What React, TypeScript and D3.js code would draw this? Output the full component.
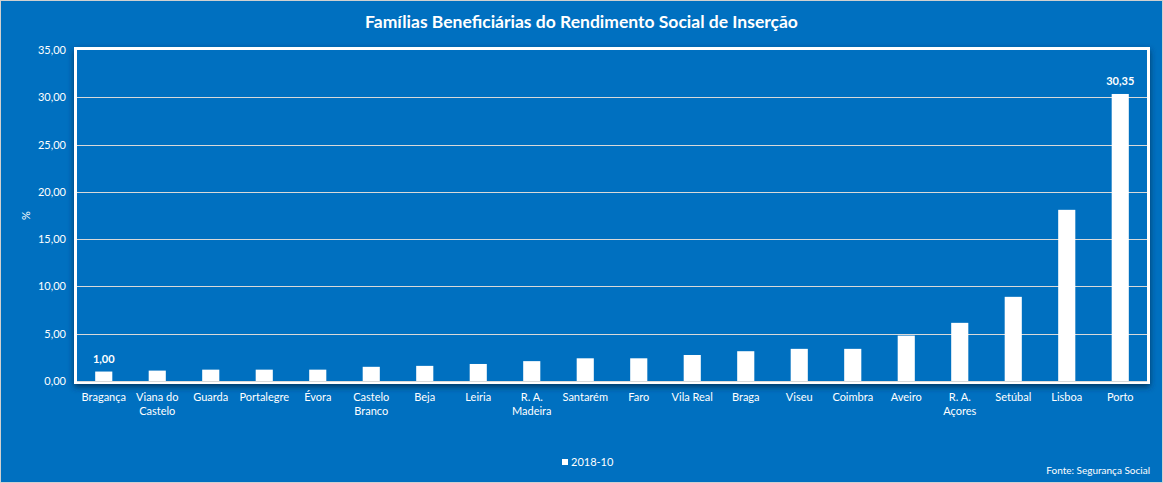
import React from 'react';
import * as d3 from 'd3';

const categories = [
  'Bragança', 'Viana do|Castelo', 'Guarda', 'Portalegre', 'Évora', 'Castelo|Branco', 'Beja', 'Leiria',
  'R. A.|Madeira', 'Santarém', 'Faro', 'Vila Real', 'Braga', 'Viseu', 'Coimbra', 'Aveiro',
  'R. A.|Açores', 'Setúbal', 'Lisboa', 'Porto',
];
const values = [
  1.0, 1.1, 1.2, 1.2, 1.2, 1.5, 1.6, 1.8, 2.1, 2.4, 2.4, 2.75, 3.15, 3.4, 3.4, 4.8, 6.15, 8.9, 18.1, 30.35,
];
const labelled = [0, 19];
const yTicks = [0, 5, 10, 15, 20, 25, 30, 35];
const seriesName = '2018-10';
const title = 'Famílias Beneficiárias do Rendimento Social de Inserção';
const source = 'Fonte: Segurança Social';

const W = 1163;
const H = 483;
const BG = '#0070c0';
const FONT = 'Lato, "Open Sans", sans-serif';
const plot = { left: 77, right: 1147, top: 50, bottom: 381 };

const fmt = (v: number) => v.toFixed(2).replace('.', ',');

export default function App() {
  const x = d3
    .scaleBand<number>()
    .domain(d3.range(categories.length))
    .range([plot.left, plot.right])
    .paddingInner(0.68)
    .paddingOuter(0.34);
  const y = d3.scaleLinear().domain([0, 35]).range([plot.bottom, plot.top]);

  return (
    <svg
      width={W}
      height={H}
      style={{ position: 'absolute', left: 0, top: 0, fontFamily: FONT }}
    >
      <defs>
        <filter id="shadow" x="-5%" y="-10%" width="110%" height="125%">
          <feDropShadow dx="0" dy="3" stdDeviation="3" floodColor="#002a4d" floodOpacity="0.8" />
        </filter>
      </defs>
      <rect x={0.5} y={0.5} width={W - 1} height={H - 1} fill={BG} stroke="#d0d0d0" />

      <text x={W / 2} y={28} textAnchor="middle" fill="#fff" fontSize={17.5} fontWeight="bold">
        {title}
      </text>

      {/* plot frame */}
      <rect
        x={plot.left - 1.5}
        y={plot.top - 1.5}
        width={plot.right - plot.left + 3}
        height={plot.bottom - plot.top + 3}
        fill={BG}
        stroke="#fff"
        strokeWidth={3}
        filter="url(#shadow)"
      />

      {/* gridlines */}
      {yTicks.slice(1, -1).map((t) => (
        <line
          key={t}
          x1={plot.left}
          x2={plot.right}
          y1={Math.round(y(t)) + 0.5}
          y2={Math.round(y(t)) + 0.5}
          stroke="#d9d9d9"
          strokeWidth={1}
        />
      ))}

      {/* y tick labels */}
      {yTicks.map((t) => (
        <text key={t} x={66} y={y(t) + 4} textAnchor="end" fill="#fff" fontSize={11}>
          {fmt(t)}
        </text>
      ))}
      <text
        transform={`translate(30,${(plot.top + plot.bottom) / 2}) rotate(-90)`}
        textAnchor="middle"
        fill="#fff"
        fontSize={11}
      >
        %
      </text>

      {/* bars */}
      {values.map((v, i) => (
        <rect
          key={i}
          x={x(i)}
          y={y(v)}
          width={x.bandwidth()}
          height={plot.bottom - y(v)}
          fill="#fff"
        />
      ))}

      {/* data labels */}
      {labelled.map((i) => (
        <text
          key={i}
          x={(x(i) as number) + x.bandwidth() / 2}
          y={y(values[i]) - 9}
          textAnchor="middle"
          fill="#fff"
          fontSize={11}
          fontWeight="bold"
        >
          {fmt(values[i])}
        </text>
      ))}

      {/* category axis line */}
      <line x1={plot.left} x2={plot.right} y1={plot.bottom + 0.5} y2={plot.bottom + 0.5} stroke="#d9d9d9" />

      {/* category labels */}
      {categories.map((c, i) => (
        <text
          key={c}
          x={(x(i) as number) + x.bandwidth() / 2}
          y={401}
          textAnchor="middle"
          fill="#fff"
          fontSize={11}
        >
          {c.split('|').map((line, j) => (
            <tspan key={j} x={(x(i) as number) + x.bandwidth() / 2} dy={j === 0 ? 0 : 14}>
              {line}
            </tspan>
          ))}
        </text>
      ))}

      {/* legend */}
      <rect x={562} y={459} width={6} height={6} fill="#fff" />
      <text x={571} y={466} fill="#fff" fontSize={11}>
        {seriesName}
      </text>

      <text x={1150} y={474} textAnchor="end" fill="#fff" fontSize={10}>
        {source}
      </text>
    </svg>
  );
}
